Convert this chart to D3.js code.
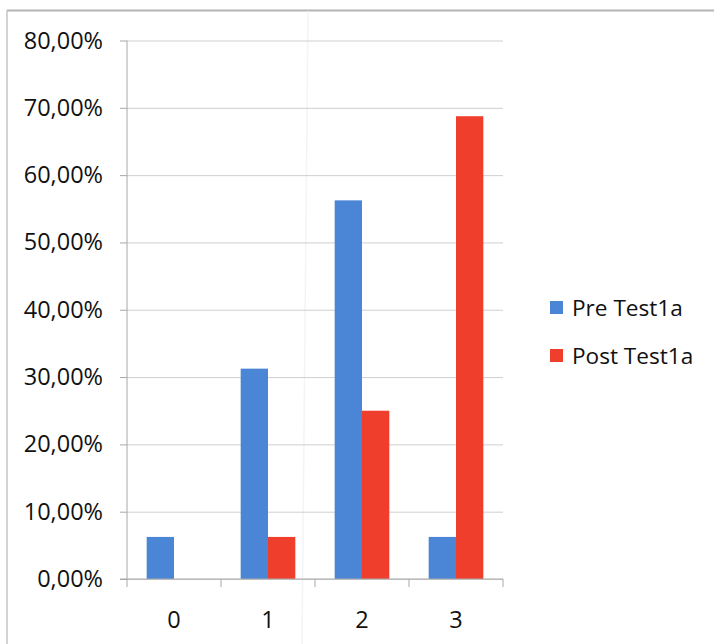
<!DOCTYPE html>
<html>
<head>
<meta charset="utf-8">
<script src="https://cdn.jsdelivr.net/npm/d3@7"></script>
<style>
  html, body { margin: 0; padding: 0; background: #fff; }
  svg { display: block; }
</style>
</head>
<body>
<svg id="chart" width="714" height="644"></svg>
<script>
// Share of answers per score, before and after the test
const categories = ["0", "1", "2", "3"];
const preValues  = [0.0625, 0.3125, 0.5625, 0.0625];
const postValues = [0, 0.0625, 0.25, 0.6875];
const seriesNames = ["Pre Test1a", "Post Test1a"];
const seriesColors = ["#4a85d6", "#f03e2c"];
const yTicks = [0, 0.1, 0.2, 0.3, 0.4, 0.5, 0.6, 0.7, 0.8];

const series = [preValues, postValues];
const font = "'Open Sans', 'DejaVu Sans', sans-serif";

const svg = d3.select("#chart");

// Outer frame (top and left edges)
svg.append("line").attr("x1", 7).attr("x2", 714).attr("y1", 10.5).attr("y2", 10.5)
  .attr("stroke", "#b4b4b4").attr("stroke-width", 2);
svg.append("line").attr("x1", 7).attr("x2", 7).attr("y1", 10).attr("y2", 644)
  .attr("stroke", "#c4c4c4").attr("stroke-width", 1.5);

// faint fold line across the sheet
svg.append("line").attr("x1", 308).attr("x2", 302).attr("y1", 11).attr("y2", 644)
  .attr("stroke", "#f4f4f4").attr("stroke-width", 1.5);

const plot = { left: 127, right: 503, top: 40.5, bottom: 579 };

const x = d3.scaleBand().domain(categories).range([plot.left, plot.right]).paddingInner(0).paddingOuter(0);
const inner = d3.scaleBand().domain(d3.range(series.length)).range([0, x.bandwidth()]).paddingInner(0).paddingOuter(0.72);
const y = d3.scaleLinear().domain([0, 0.8]).range([plot.bottom, plot.top]);

const pct = v => d3.format(".2f")(v * 100).replace(".", ",") + "%";

// horizontal gridlines
svg.append("g")
  .attr("transform", `translate(${plot.left},0)`)
  .call(d3.axisLeft(y).tickValues(yTicks).tickSize(-(plot.right - plot.left)).tickFormat(""))
  .call(g => g.select(".domain").remove())
  .call(g => g.selectAll(".tick line").attr("stroke", "#cfcfcf").attr("stroke-width", 1));

// bars
series.forEach((vals, si) => {
  svg.append("g").selectAll("rect")
    .data(vals.map((v, i) => ({ cat: categories[i], v })))
    .join("rect")
    .attr("x", d => x(d.cat) + inner(si))
    .attr("width", inner.bandwidth())
    .attr("y", d => y(d.v))
    .attr("height", d => y(0) - y(d.v))
    .attr("fill", seriesColors[si]);
});

// y axis
const yAxis = svg.append("g")
  .attr("transform", `translate(${plot.left},0)`)
  .call(d3.axisLeft(y).tickValues(yTicks).tickSize(7).tickPadding(17).tickFormat(pct));
yAxis.select(".domain").attr("stroke", "#a8a8a8").attr("d", `M0,${plot.top}V${plot.bottom}`);
yAxis.selectAll(".tick line").attr("stroke", "#a8a8a8");
yAxis.selectAll(".tick text").attr("font-family", font).attr("font-size", 23.5).attr("fill", "#111");

// x axis with ticks on category boundaries
const xAxis = svg.append("g")
  .attr("transform", `translate(0,${plot.bottom})`)
  .call(d3.axisBottom(x).tickSize(0).tickPadding(32));
xAxis.select(".domain").attr("stroke", "#a8a8a8").attr("d", `M${plot.left - 7},0H${plot.right}`);
xAxis.selectAll(".tick text").attr("font-family", font).attr("font-size", 23.5).attr("fill", "#111");
xAxis.selectAll(".boundary")
  .data(categories.concat(["end"]))
  .join("line")
  .attr("class", "boundary")
  .attr("x1", (d, i) => plot.left + i * x.bandwidth())
  .attr("x2", (d, i) => plot.left + i * x.bandwidth())
  .attr("y1", 0).attr("y2", 8)
  .attr("stroke", "#a8a8a8");

// legend
const legend = svg.append("g").attr("transform", "translate(550,0)");
seriesNames.forEach((name, i) => {
  const cy = 308 + i * 48;
  legend.append("rect").attr("x", 0).attr("y", cy - 7).attr("width", 13).attr("height", 13)
    .attr("fill", seriesColors[i]);
  legend.append("text").attr("x", 22).attr("y", cy).attr("dy", "0.35em")
    .attr("font-family", font).attr("font-size", 22.6).attr("fill", "#111").text(name);
});
</script>
</body>
</html>
